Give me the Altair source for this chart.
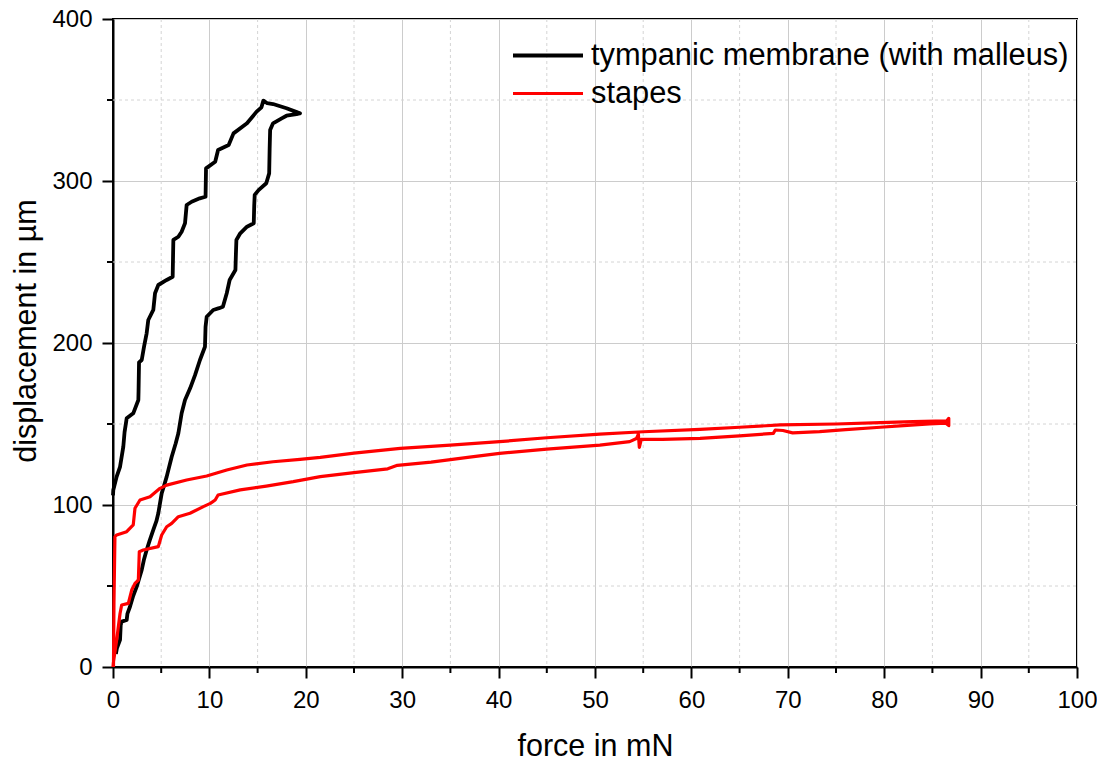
import altair as alt
import pandas as pd

# ---------------- data ----------------
tm_force = [0.3, 0.4, 0.73, 0.8, 0.9, 1.42, 1.5, 1.76, 2.1, 2.46, 2.98, 3.2, 3.49, 3.8, 4.18, 4.5, 4.70,
            5.05, 5.3, 5.57, 6.09, 6.5, 6.78, 7.12, 7.47, 8.0, 8.5, 9.02, 9.54, 9.6, 9.72, 10.4, 11.0,
            11.4, 11.8, 12.1, 12.7, 12.75, 12.8, 13.2, 13.9, 14.6, 14.65, 14.7, 15.1, 15.9, 16.2, 16.25,
            16.3, 16.6, 17.5, 18.0, 19.2, 19.4, 19.2, 18.0, 16.6, 16.0, 15.6, 15.4, 14.9, 13.9, 12.5,
            12.0, 10.9, 10.6, 9.65, 9.6, 9.0, 8.16, 7.64, 7.47, 7.12, 6.78, 6.26, 6.19, 5.57, 4.70, 4.36,
            4.18, 3.66, 3.49, 3.22, 2.98, 2.7, 2.65, 2.63, 2.1, 1.42, 1.2, 1.07, 0.73, 0.38, 0.03, 0.0]
tm_disp = [8, 11.5, 16.7, 26, 28, 29, 33, 37.2, 44, 49.6, 59.9, 66, 72.2, 78, 84.6, 90, 94.9,
           107.2, 112, 117.5, 129.8, 138, 144.3, 156.6, 164.8, 172, 180, 189.5, 197.7, 210, 216.2, 220.4, 221.5,
           222.4, 230.7, 238.9, 245.1, 255, 263.6, 267.7, 271.8, 273.9, 285, 291.4, 294.4, 298.6, 304.7, 320,
           331.5, 335.6, 338.7, 340.3, 341.5, 341.8, 342.2, 344.9, 347.5, 348, 349.6, 345.5, 342.8, 335.6, 329.4,
           322.2, 319.1, 311.9, 307.8, 290.3, 289.3, 287.2, 285.2, 273.9, 268.7, 265.6, 263.6, 240.9, 238.9, 235.8, 230.7,
           220.4, 214.2, 206.0, 197.7, 189.5, 188, 170, 164.8, 156.6, 153.5, 145, 136, 123.6, 117.5, 109.3, 106]

st_force = [0.0, 0.03, 0.38, 0.73, 0.9, 1.59, 1.94, 2.28, 2.63, 2.73, 3.14, 4.70, 5.05, 5.57, 6.09, 6.78,
            7.99, 9.37, 10.1, 10.6, 10.9, 13.2, 15.9, 18.7, 21.5, 25.0, 28.5, 29.5, 33.0, 37.0, 40.1, 45.0,
            50.5, 53.6, 54.3, 54.5, 54.6, 54.8, 57.0, 60.9, 65.0, 68.5, 68.7, 69.5, 70.5, 73.3, 76.0, 79.6,
            82.0, 84.7, 86.4, 86.7, 86.7, 86.5, 83.0, 79.6, 75.0, 69.2, 65.0, 60.9, 55.0, 50.5, 45.0, 40.1,
            35.0, 29.8, 25.0, 21.5, 19.4, 16.6, 13.9, 11.8, 9.72, 7.64, 5.57, 4.88, 3.84, 2.8, 2.28, 2.1,
            1.42, 0.38, 0.2, 0.1, 0.05]
st_disp = [0.0, 2.3, 16.7, 33.0, 38.3, 39.3, 47.5, 51.6, 53.7, 71.2, 72.2, 74.3, 81.5, 86.6, 88.7, 92.8,
           94.9, 99.0, 101.0, 103.1, 106.2, 109.3, 111.7, 114.4, 117.5, 120.0, 122.3, 124.5, 126.5, 129.5, 131.9, 134.5,
           137.0, 139.1, 141.0, 143.8, 135.6, 140.5, 140.5, 141.1, 142.7, 144.2, 146.3, 146.0, 144.5, 145.3, 146.5, 148.0,
           149.0, 150.0, 150.5, 149.0, 153.5, 152.0, 151.5, 150.8, 150.0, 149.4, 148.0, 146.7, 145.2, 143.8, 141.5, 139.1,
           137.0, 135.0, 132.0, 129.4, 128.2, 126.7, 124.7, 121.6, 117.9, 115.4, 112.3, 110.3, 105.1, 103.1, 98.0, 87.7,
           83.5, 81.5, 80.4, 40.0, 0.0]

series_names = ["tympanic membrane (with malleus)", "stapes"]
series_colors = ["#000000", "#ff0000"]
series_widths = [3.8, 3.2]

x_major = [0, 10, 20, 30, 40, 50, 60, 70, 80, 90, 100]
x_minor = [5, 15, 25, 35, 45, 55, 65, 75, 85, 95]
y_major = [0, 100, 200, 300, 400]
y_minor = [50, 150, 250, 350]

FONT = "Liberation Sans"
W, H = 964, 648

# ---------------- tables ----------------
rows = []
for i, (f, d) in enumerate(zip(tm_force, tm_disp)):
    rows.append({"series": series_names[0], "force": f, "disp": d, "idx": i})
for i, (f, d) in enumerate(zip(st_force, st_disp)):
    rows.append({"series": series_names[1], "force": f, "disp": d, "idx": i})
df = pd.DataFrame(rows)

xminor_df = pd.DataFrame({"v": x_minor})
yminor_df = pd.DataFrame({"v": y_minor})

xscale = alt.Scale(domain=[0, 100], nice=False, zero=False)
yscale = alt.Scale(domain=[0, 400], nice=False, zero=False)

x_axis = alt.Axis(values=x_major, title="force in mN", titleX=W / 2, titleY=88,
                  titleBaseline="alphabetic", titleAlign="center", labelFlush=False,
                  tickSize=11, labelPadding=10, format="d")
y_axis = alt.Axis(values=y_major, title="displacement in µm", titleX=-78, titleY=311.5,
                  titleAngle=270, titleBaseline="alphabetic", titleAlign="center", labelFlush=False,
                  tickSize=11, labelPadding=10, format="d")

# minor dashed grid
xminor_grid = alt.Chart(xminor_df).mark_rule(color="#d4d4d4", strokeWidth=1, strokeDash=[3, 3]).encode(
    x=alt.X("v:Q", scale=xscale, axis=x_axis),
    y=alt.value(0), y2=alt.value(H),
)
yminor_grid = alt.Chart(yminor_df).mark_rule(color="#d4d4d4", strokeWidth=1, strokeDash=[3, 3]).encode(
    y=alt.Y("v:Q", scale=yscale, axis=y_axis),
    x=alt.value(0), x2=alt.value(W),
)

lines = alt.Chart(df).mark_line(strokeJoin="round").encode(
    x=alt.X("force:Q", scale=xscale, axis=x_axis),
    y=alt.Y("disp:Q", scale=yscale, axis=y_axis),
    color=alt.Color("series:N",
                    scale=alt.Scale(domain=series_names, range=series_colors),
                    legend=alt.Legend(title=None, orient="none", legendX=398, legendY=17.5,
                                      symbolType="stroke", symbolSize=4900, symbolStrokeWidth=3,
                                      clipHeight=38, rowPadding=0,
                                      labelFontSize=30.8, labelOffset=6, labelFont=FONT,
                                      labelColor="black", labelLimit=700)),
    strokeWidth=alt.StrokeWidth("series:N",
                                scale=alt.Scale(domain=series_names, range=series_widths),
                                legend=None),
    order=alt.Order("idx:Q"),
    detail="series:N",
)

# minor ticks
xminor_tick = alt.Chart(xminor_df).mark_rule(color="black", strokeWidth=2).encode(
    x=alt.X("v:Q", scale=xscale, axis=x_axis),
    y=alt.value(H), y2=alt.value(H + 6),
)
yminor_tick = alt.Chart(yminor_df).mark_rule(color="black", strokeWidth=2).encode(
    y=alt.Y("v:Q", scale=yscale, axis=y_axis),
    x=alt.value(0), x2=alt.value(-6),
)

chart = alt.layer(xminor_grid, yminor_grid, lines, xminor_tick, yminor_tick).properties(
    width=W, height=H,
    autosize=alt.AutoSizeParams(type="none"),
    padding={"left": 105, "top": 11, "right": 20, "bottom": 93},
).configure_view(
    stroke="black", strokeWidth=2
).configure_axis(
    grid=True, gridColor="#cccccc", gridWidth=1,
    domainColor="black", domainWidth=2,
    tickColor="black", tickWidth=2,
    labelFont=FONT, labelFontSize=24, labelColor="black",
    titleFont=FONT, titleFontSize=30.5, titleFontWeight="normal", titleColor="black",
).configure_axisY(
    labelBaseline="middle"
)

chart.save("out.html", embed_options={"renderer": "svg", "actions": False})
